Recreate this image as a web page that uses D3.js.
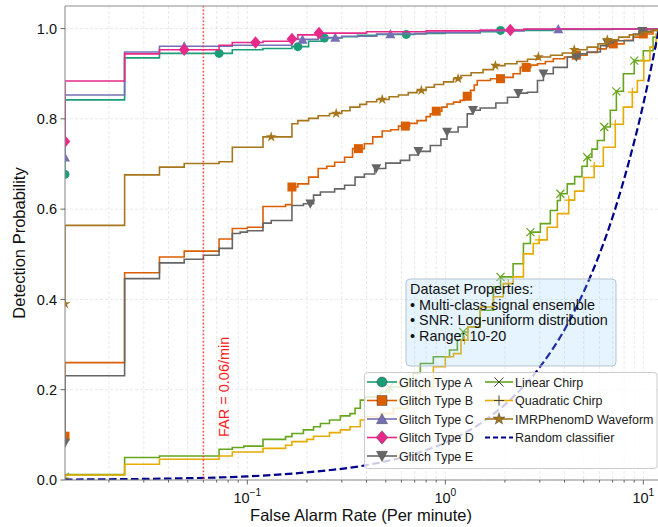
<!DOCTYPE html>
<html><head><meta charset="utf-8">
<script src="https://cdn.jsdelivr.net/npm/d3@7"></script>
<style>
body{margin:0;background:#fff;}
svg{display:block;font-family:"Liberation Sans",Arial,Helvetica,sans-serif;}
</style></head><body>
<svg id="chart" width="658" height="527"></svg>
<script>
// ROC-style detection curves: [false alarm rate (per minute), detection probability]
const glitchA = [[0.012,0.677],[0.012,0.842],[0.024,0.935],[0.036,0.945],[0.084,0.953],[0.12,0.956],[0.168,0.960],[0.204,0.972],[0.24,0.979],[0.3,0.982],[0.36,0.985],[0.45,0.987],[0.7,0.989],[1.0,0.991],[1.5,0.993],[1.9,0.996],[3.5,0.998],[7,0.999],[12,1.0]];
const glitchB = [[0.012,0.097],[0.012,0.26],[0.024,0.459],[0.036,0.494],[0.048,0.507],[0.072,0.534],[0.084,0.557],[0.10,0.56],[0.12,0.606],[0.156,0.61],[0.168,0.649],[0.18,0.656],[0.204,0.671],[0.228,0.69],[0.252,0.695],[0.276,0.704],[0.31,0.715],[0.34,0.734],[0.39,0.745],[0.43,0.76],[0.48,0.773],[0.53,0.776],[0.58,0.784],[0.66,0.790],[0.72,0.796],[0.80,0.805],[0.84,0.811],[0.90,0.817],[0.96,0.826],[1.02,0.833],[1.1,0.837],[1.19,0.841],[1.25,0.850],[1.34,0.863],[1.40,0.875],[1.45,0.885],[1.69,0.889],[1.95,0.892],[2.2,0.900],[2.39,0.914],[2.7,0.919],[2.92,0.922],[3.2,0.927],[3.51,0.933],[4.0,0.937],[4.59,0.941],[5.2,0.947],[5.86,0.955],[6.5,0.961],[7.05,0.966],[8.0,0.974],[8.9,0.981],[10,0.988],[11.2,0.996],[12,1.0]];
const glitchC = [[0.012,0.715],[0.012,0.853],[0.024,0.948],[0.036,0.961],[0.084,0.963],[0.168,0.976],[0.228,0.980],[0.3,0.983],[0.45,0.988],[0.8,0.991],[1.5,0.995],[2.5,0.998],[3.5,0.999],[12,1.0]];
const glitchD = [[0.012,0.75],[0.012,0.884],[0.024,0.944],[0.036,0.953],[0.072,0.963],[0.084,0.969],[0.12,0.972],[0.168,0.977],[0.18,0.986],[0.228,0.99],[0.4,0.993],[0.8,0.995],[1.5,0.997],[2.5,0.999],[12,1.0]];
const glitchE = [[0.012,0.082],[0.012,0.231],[0.024,0.446],[0.036,0.481],[0.048,0.489],[0.06,0.498],[0.072,0.513],[0.084,0.546],[0.092,0.549],[0.10,0.552],[0.12,0.569],[0.132,0.575],[0.168,0.608],[0.192,0.612],[0.216,0.631],[0.234,0.638],[0.276,0.645],[0.31,0.653],[0.35,0.671],[0.39,0.678],[0.44,0.690],[0.50,0.702],[0.593,0.708],[0.66,0.72],[0.73,0.728],[0.84,0.741],[0.95,0.755],[1.02,0.771],[1.16,0.782],[1.29,0.811],[1.38,0.819],[1.5,0.824],[1.8,0.835],[2.06,0.848],[2.34,0.857],[2.6,0.859],[2.92,0.885],[3.13,0.9],[3.51,0.914],[4.13,0.937],[4.8,0.944],[5.2,0.948],[6.07,0.962],[6.5,0.968],[7.05,0.973],[8.9,0.988],[9.5,0.994],[11,0.997],[12,1.0]];
const linearChirp = [[0.012,0.007],[0.012,0.012],[0.024,0.050],[0.036,0.053],[0.072,0.068],[0.084,0.072],[0.096,0.075],[0.12,0.09],[0.156,0.096],[0.168,0.103],[0.192,0.111],[0.216,0.118],[0.234,0.125],[0.26,0.133],[0.295,0.142],[0.33,0.147],[0.35,0.159],[0.372,0.177],[0.394,0.184],[0.47,0.195],[0.52,0.206],[0.643,0.221],[0.689,0.236],[0.748,0.258],[0.87,0.273],[1.05,0.288],[1.15,0.31],[1.23,0.328],[1.3,0.339],[1.5,0.376],[1.75,0.428],[1.9,0.45],[2.2,0.479],[2.48,0.524],[2.69,0.549],[3.02,0.568],[3.39,0.597],[3.68,0.619],[3.81,0.634],[4.13,0.656],[4.5,0.672],[4.9,0.695],[5.21,0.715],[5.5,0.733],[5.86,0.752],[6.35,0.782],[6.81,0.819],[7.31,0.861],[7.93,0.9],[9.0,0.929],[10,0.951],[11.2,0.981],[11.8,0.997],[12,1.0]];
const quadraticChirp = [[0.012,0.004],[0.012,0.011],[0.024,0.035],[0.036,0.046],[0.072,0.053],[0.084,0.062],[0.12,0.070],[0.156,0.077],[0.168,0.085],[0.2,0.090],[0.216,0.097],[0.26,0.105],[0.295,0.111],[0.33,0.118],[0.372,0.133],[0.394,0.14],[0.47,0.147],[0.546,0.159],[0.643,0.177],[0.748,0.206],[0.87,0.251],[1.0,0.273],[1.1,0.28],[1.2,0.31],[1.3,0.339],[1.5,0.383],[1.75,0.406],[1.96,0.435],[2.2,0.45],[2.48,0.501],[2.78,0.524],[2.98,0.532],[3.27,0.56],[3.68,0.59],[4.2,0.62],[4.5,0.64],[5.0,0.67],[5.65,0.695],[6.28,0.737],[7.22,0.788],[7.93,0.826],[8.8,0.859],[9.33,0.885],[10.05,0.929],[10.8,0.959],[11.6,0.988],[12,1.0]];
const imrPhenomD = [[0.012,0.39],[0.012,0.564],[0.024,0.676],[0.036,0.693],[0.048,0.701],[0.072,0.705],[0.084,0.737],[0.12,0.760],[0.168,0.789],[0.18,0.796],[0.204,0.801],[0.228,0.807],[0.26,0.812],[0.3,0.818],[0.33,0.826],[0.37,0.832],[0.40,0.838],[0.45,0.843],[0.52,0.849],[0.58,0.853],[0.65,0.858],[0.72,0.863],[0.80,0.870],[0.88,0.876],[0.98,0.882],[1.1,0.889],[1.2,0.896],[1.35,0.902],[1.55,0.909],[1.75,0.918],[2.0,0.922],[2.3,0.927],[2.6,0.932],[2.95,0.937],[3.4,0.941],[3.9,0.946],[4.48,0.953],[5.2,0.959],[5.9,0.966],[6.58,0.975],[7.5,0.981],[8.5,0.986],[9.8,0.992],[11,0.996],[12,1.0]];
const randomClassifier = [[0.012,0.001],[0.05,0.004],[0.1,0.008],[0.2,0.017],[0.4,0.033],[0.7,0.058],[1.0,0.083],[1.5,0.125],[2.0,0.167],[3.0,0.25],[4.0,0.333],[5.0,0.417],[6.0,0.5],[7.0,0.583],[8.0,0.667],[9.0,0.75],[10,0.833],[11,0.917],[12,1.0]];

// false alarm rates where each curve carries a marker
const marksA = [0.012,0.072,0.18,0.245,0.635,1.9];
const marksB = [0.012,0.168,0.364,0.628,0.90,1.29,1.9,2.56,4.59,7.05,10];
const marksC = [0.012,0.048,0.19,0.278,0.528,3.72];
const marksD = [0.012,0.048,0.11,0.168,0.23,2.13];
const marksE = [0.012,0.208,0.448,0.731,1.02,1.38,2.34,3.13,4.59,6.58,9.88];
const marksLinear = [0.012,0.52,1.23,1.9,2.69,3.81,5.21,6.35,7.31,9.0];
const marksQuadratic = [0.012,1.25,2.08,2.98,4.2,5.65,7.22,8.8,10.05];
const marksIMR = [0.012,0.132,0.281,0.48,0.757,1.16,1.79,2.95,4.48,6.58];

const seriesNames = ["Glitch Type A","Glitch Type B","Glitch Type C","Glitch Type D","Glitch Type E","Linear Chirp","Quadratic Chirp","IMRPhenomD Waveform"];
const seriesColors = ["#1b9e77","#d95f02","#7570b3","#e7298a","#666666","#66a61e","#e6ab02","#a6761d"];
const seriesSymbols = ["circle","square","triangle","diamond","triangleDown","cross","plus","star"];
const seriesData = [glitchA,glitchB,glitchC,glitchD,glitchE,linearChirp,quadraticChirp,imrPhenomD];
const seriesMarks = [marksA,marksB,marksC,marksD,marksE,marksLinear,marksQuadratic,marksIMR];

const yTicks = [0,0.2,0.4,0.6,0.8,1.0];
const xMajorTicks = [0.1,1,10];
const xTickExponents = ["\u22121","0","1"];
const farThreshold = 0.06;
const infoLines = ["Dataset Properties:","\u2022 Multi-class signal ensemble","\u2022 SNR: Log-uniform distribution","\u2022 Range: 10-20"];

const svg = d3.select("#chart");
const L = 65, R = 659, T = 6, B = 480;
const x = d3.scaleLog().domain([0.012, 12]).range([L, R]);
const y = d3.scaleLinear().domain([0, 1.05]).range([B, T]);

svg.append("defs").append("clipPath").attr("id","plotClip")
  .append("rect").attr("x",L).attr("y",T).attr("width",R-L).attr("height",B-T);

// grid
const minorX = [];
[0.01,0.1,1].forEach(dec => { for (let m=2;m<=9;m++){ const v=m*dec; if (v>0.012 && v<12) minorX.push(v);} });
const grid = svg.append("g").attr("stroke","#dadada").attr("stroke-width",0.6).attr("stroke-dasharray","3,2");
minorX.concat(xMajorTicks).forEach(v => grid.append("line").attr("x1",x(v)).attr("x2",x(v)).attr("y1",T).attr("y2",B));
yTicks.forEach(v => grid.append("line").attr("x1",L).attr("x2",R).attr("y1",y(v)).attr("y2",y(v)));

// marker shapes
function symbolPath(kind, s) {
  switch (kind) {
    case "circle": return d3.symbol(d3.symbolCircle, Math.PI*s*s/4)();
    case "square": { const h=s/2; return `M${-h},${-h}H${h}V${h}H${-h}Z`; }
    case "triangle": { const h=s/2; return `M0,${-h}L${h},${h*0.85}L${-h},${h*0.85}Z`; }
    case "triangleDown": { const h=s/2; return `M0,${h}L${h},${-h*0.85}L${-h},${-h*0.85}Z`; }
    case "diamond": { const h=s/2; return `M0,${-h}L${h*0.85},0L0,${h}L${-h*0.85},0Z`; }
    case "star": return d3.symbol(d3.symbolStar, s*s*0.45)();
    case "cross": { const h=s/2; return `M${-h},${-h}L${h},${h}M${-h},${h}L${h},${-h}`; }
    case "plus": { const h=s/2; return `M${-h},0H${h}M0,${-h}V${h}`; }
  }
}
const symbolSize = {circle:9, square:9, triangle:10, triangleDown:10, diamond:12.5, star:9, cross:8, plus:9};
const isOpen = k => k==="cross" || k==="plus";

function markerY(data, f) {
  const exact = data.find(d => Math.abs(Math.log(d[0]/f)) < 0.005);
  if (exact) return exact[1];
  let v = data[0][1];
  for (const d of data) { if (d[0] <= f) v = d[1]; else break; }
  return v;
}

const plot = svg.append("g").attr("clip-path","url(#plotClip)");
const stepLine = d3.line().x(d=>x(d[0])).y(d=>y(d[1])).curve(d3.curveStepAfter);

seriesData.forEach((data,i) => {
  const g = plot.append("g");
  g.append("path").attr("d",stepLine(data)).attr("fill","none")
    .attr("stroke",seriesColors[i]).attr("stroke-width",1.6).attr("stroke-linejoin","miter");
  const kind = seriesSymbols[i];
  seriesMarks[i].forEach(f => {
    const p = g.append("path").attr("d",symbolPath(kind,symbolSize[kind]))
      .attr("transform",`translate(${x(f)},${y(markerY(data,f))})`);
    if (isOpen(kind)) p.attr("fill","none").attr("stroke",seriesColors[i]).attr("stroke-width",1.2);
    else p.attr("fill",seriesColors[i]);
  });
});

// random classifier reference
plot.append("path").datum(randomClassifier)
  .attr("d", d3.line().x(d=>x(d[0])).y(d=>y(d[1])).curve(d3.curveMonotoneX))
  .attr("fill","none").attr("stroke","#00008b").attr("stroke-width",2.2).attr("stroke-dasharray","7.5,3.5");

// operating threshold
plot.append("line").attr("x1",x(farThreshold)).attr("x2",x(farThreshold)).attr("y1",T).attr("y2",B)
  .attr("stroke","#ff3030").attr("stroke-width",1.6).attr("stroke-dasharray","1.6,2").attr("opacity",0.85);
svg.append("text").attr("transform",`translate(${x(farThreshold)+26},437) rotate(-90)`)
  .attr("fill","#ff1a1a").attr("font-size",14.5).text(`FAR = ${farThreshold}/min`);

// spines
svg.append("g").attr("stroke","#8c8c8c").attr("stroke-width",1.1).attr("fill","none")
  .call(g => { g.append("line").attr("x1",L).attr("x2",L).attr("y1",T).attr("y2",B);
               g.append("line").attr("x1",L).attr("x2",R).attr("y1",B).attr("y2",B);
               g.append("line").attr("x1",L).attr("x2",R).attr("y1",T).attr("y2",T); });

// ticks
const ticks = svg.append("g").attr("stroke","#555").attr("stroke-width",0.9);
yTicks.forEach(v => ticks.append("line").attr("x1",L-4.5).attr("x2",L).attr("y1",y(v)).attr("y2",y(v)));
xMajorTicks.forEach(v => ticks.append("line").attr("x1",x(v)).attr("x2",x(v)).attr("y1",B).attr("y2",B+4.5));
minorX.forEach(v => ticks.append("line").attr("x1",x(v)).attr("x2",x(v)).attr("y1",B).attr("y2",B+2.6));

svg.append("g").selectAll("text").data(yTicks).join("text")
  .attr("x",57).attr("y",d=>y(d)+5.2).attr("text-anchor","end").attr("font-size",14.5).attr("fill","#111")
  .text(d=>d3.format(".1f")(d));

const xl = svg.append("g").selectAll("text").data(xMajorTicks).join("text")
  .attr("x",d=>x(d)).attr("y",503).attr("text-anchor","middle").attr("font-size",14.5).attr("fill","#111");
xl.append("tspan").text("10");
xl.append("tspan").attr("dy",-7).attr("font-size",10.2).text((d,i)=>xTickExponents[i]);

// axis titles
svg.append("text").attr("x",(L+R)/2-1).attr("y",521).attr("text-anchor","middle")
  .attr("font-size",16.5).attr("fill","#111").text("False Alarm Rate (Per minute)");
svg.append("text").attr("transform",`translate(25,${(T+B)/2}) rotate(-90)`).attr("text-anchor","middle")
  .attr("font-size",16.5).attr("fill","#111").text("Detection Probability");

// info box
const info = svg.append("g");
info.append("rect").attr("x",406).attr("y",279).attr("width",210).attr("height",87).attr("rx",4)
  .attr("fill","#87cefa").attr("fill-opacity",0.22).attr("stroke","#b5c4cf").attr("stroke-width",1);
info.selectAll("text").data(infoLines).join("text")
  .attr("x",410).attr("y",(d,i)=>294+i*15.6).attr("font-size",14.4).attr("fill","#111").text(d=>d);

// legend
const leg = svg.append("g");
leg.append("rect").attr("x",364.5).attr("y",372.5).attr("width",292.5).attr("height",96).attr("rx",3)
  .attr("fill","#fff").attr("fill-opacity",0.8).attr("stroke","#cccccc").attr("stroke-width",1);
const legendItems = seriesNames.map((n,i)=>({name:n,color:seriesColors[i],kind:seriesSymbols[i],dash:null}))
  .concat([{name:"Random classifier",color:"#00008b",kind:null,dash:"5,3"}]);
legendItems.forEach((it,i) => {
  const col = i < 5 ? 0 : 1, row = i < 5 ? i : i-5;
  const x0 = col===0 ? 367 : 485, x1 = col===0 ? 397 : 513;
  const cy = 382 + row*18.5;
  const g = leg.append("g");
  g.append("line").attr("x1",x0).attr("x2",x1).attr("y1",cy).attr("y2",cy)
    .attr("stroke",it.color).attr("stroke-width",it.dash?1.8:1.6).attr("stroke-dasharray",it.dash);
  if (it.kind) {
    const p = g.append("path").attr("d",symbolPath(it.kind,symbolSize[it.kind]+1))
      .attr("transform",`translate(${(x0+x1)/2},${cy})`);
    if (isOpen(it.kind)) p.attr("fill","none").attr("stroke","#444").attr("stroke-width",1);
    else p.attr("fill",it.color).attr("stroke","#333").attr("stroke-opacity",0.6).attr("stroke-width",0.7);
  }
  g.append("text").attr("x",x1+2).attr("y",cy+4.5).attr("font-size",12.5).attr("fill","#222").text(it.name);
});
</script>
</body></html>
